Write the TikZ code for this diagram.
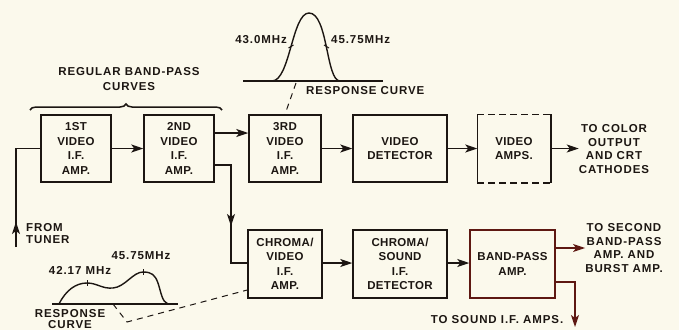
\documentclass[tikz,border=0pt]{standalone}
\usepackage{fontspec}
\setmainfont{Liberation Sans}
\newfontfamily\boxf{Liberation Sans}[LetterSpace=3]
\newfontfamily\labf{Liberation Sans}[LetterSpace=8]
\usetikzlibrary{arrows.meta,decorations.pathreplacing}
\definecolor{bg}{HTML}{FBF9EC}
\definecolor{ink}{HTML}{1C1612}
\definecolor{rink}{HTML}{5E1812}
\tikzset{
  blk/.style={draw=ink, line width=1.5pt, minimum height=67pt, align=center, inner sep=0pt,
              font=\boxf\bfseries\fontsize{11.5}{14.5}\selectfont, text=ink},
  lab/.style={align=center, inner sep=0pt, font=\labf\bfseries\fontsize{11.5}{13.6}\selectfont, text=ink},
  wire/.style={draw=ink, line width=1.4pt},
  arr/.style={wire, -{Stealth[length=12pt,width=8pt,inset=3pt]}},
  dsh/.style={draw=ink, line width=1pt, dash pattern=on 6pt off 5pt},
}
\begin{document}
\begin{tikzpicture}[x=1pt,y=-1pt]
\fill[bg] (0,0) rectangle (679,330);
\useasboundingbox (0,0) rectangle (679,330);

% blocks
\node[blk, minimum width=70pt] (b1) at (76,148.5) {1ST\\VIDEO\\I.F.\\AMP.};
\node[blk, minimum width=70pt] (b2) at (179,148.5) {2ND\\VIDEO\\I.F.\\AMP.};
\node[blk, minimum width=72pt] (b3) at (285,148.5) {3RD\\VIDEO\\I.F.\\AMP.};
\node[blk, minimum width=94pt] (vd) at (400,148.5) {VIDEO\\DETECTOR};
\node[blk, draw=none, minimum width=72pt] (va) at (514,148.5) {VIDEO\\AMPS.};
\draw[wire, line width=1.5pt] (va.north west) -- (va.south west);
\draw[wire, line width=1.5pt] (va.north east) -- (va.south east);
\draw[wire, line width=1.5pt, dash pattern=on 7pt off 4pt] (va.north west) -- (va.north east);
\draw[wire, line width=1.5pt, dash pattern=on 7pt off 4pt] (va.south west) -- (va.south east);
\node[blk, minimum width=74pt, minimum height=68pt] (cv) at (285,264) {CHROMA/\\VIDEO\\I.F.\\AMP.};
\node[blk, minimum width=94pt, minimum height=68pt] (cs) at (400,264) {CHROMA/\\SOUND\\I.F.\\DETECTOR};
\node[blk, draw=rink, minimum width=85pt, minimum height=68pt] (bp) at (512.5,264) {BAND-PASS\\AMP.};

% labels
\node[lab] (tcol) at (614,149) {TO COLOR\\OUTPUT\\AND CRT\\CATHODES};
\node[lab] (tsec) at (624,248) {TO SECOND\\BAND-PASS\\AMP. AND\\BURST AMP.};
\node[lab] (tsnd) at (497,320) {TO SOUND I.F. AMPS.};
\node[lab, align=left, anchor=west, font=\labf\bfseries\fontsize{11.5}{11.5}\selectfont] (tun) at (26,233.5) {FROM\\TUNER};
\node[lab, font=\labf\bfseries\fontsize{11.5}{14.5}\selectfont] (reg) at (129,79) {REGULAR BAND-PASS\\CURVES};
\node[lab, anchor=east] (f1) at (287,40) {43.0MHz};
\node[lab, anchor=west] (f2) at (331,40) {45.75MHz};
\node[lab, anchor=west] (rc1) at (306,91) {RESPONSE CURVE};
\node[lab] (f3) at (80,270) {42.17 MHz};
\node[lab] (f4) at (141,256) {45.75MHz};
\node[lab, font=\labf\bfseries\fontsize{11.5}{11.5}\selectfont] (rc2) at (70,319) {RESPONSE\\CURVE};

% top connections
\draw[arr] (b1.east) -- (b2.west);
\draw[arr] (b2.east |- 0,133) -- (b3.west |- 0,133);
\draw[arr] (b3.east) -- (vd.west);
\draw[arr] (vd.east) -- (va.west);
\draw[arr] (va.east) -- (va.east -| tcol.west);

% from tuner
\coordinate (tb) at (16,247);
\coordinate (tt) at (16,148.5);
\draw[wire] (tb) -- (tt) -- (b1.west);
\coordinate (ta1) at (16,240);
\coordinate (ta2) at (16,222);
\draw[arr] (ta1) -- (ta2);

% 2nd -> chroma/video
\coordinate (k1) at (231,165);
\coordinate (k2) at (231,263);
\draw[wire] (b2.east |- k1) -- (k1) -- (k2) -- (cv.west |- k2);
\coordinate (ka1) at (231,195);
\coordinate (ka2) at (231,226);
\draw[arr] (ka1) -- (ka2);

% bottom row
\draw[arr] (cv.east |- 0,263) -- (cs.west |- 0,263);
\draw[arr] (cs.east |- 0,263) -- (bp.west |- 0,263);
\draw[arr, draw=rink, fill=rink] (bp.east |- 0,248) -- (tsec.west |- 0,248);
\coordinate (s1) at (575,282);
\coordinate (s2) at (575,327);
\draw[arr, draw=rink] (bp.east |- s1) -- (s1) -- (s2);

% brace
\draw[draw=ink, line width=1.5pt, decorate, decoration={brace, amplitude=6pt}] (30,110) -- (222,110);

% top response curve
\draw[wire] (243,81) -- (383,81);
\draw[wire] (272,81) .. controls (290,81) and (292,13) .. (309,13)
                     .. controls (328,13) and (326,81) .. (340,81);
\draw[wire, line width=1pt] (288.5,48) -- (293.5,45);
\draw[wire, line width=1pt] (324,45) -- (329,48);
\coordinate (d1) at (296,83);
\draw[dsh] (d1) -- (b3.north);

% bottom response curve
\draw[wire] (52,304) -- (178,304);
\draw[wire] (59,304) .. controls (66,290) and (76,283) .. (87,283)
                     .. controls (97,283) and (102,289) .. (113,288)
                     .. controls (125,287) and (133,272) .. (143,272)
                     .. controls (152,272) and (155,275) .. (158,283)
                     .. controls (161,292) and (162,302) .. (168,304);
\draw[wire, line width=1pt] (87,280) -- (87,286);
\draw[wire, line width=1pt] (143,269) -- (143,275);
\coordinate (d2) at (113,304);
\coordinate (d3) at (127,322);
\draw[dsh] (d2) -- (d3) -- (cv.west |- 0,290);
\end{tikzpicture}
\end{document}
